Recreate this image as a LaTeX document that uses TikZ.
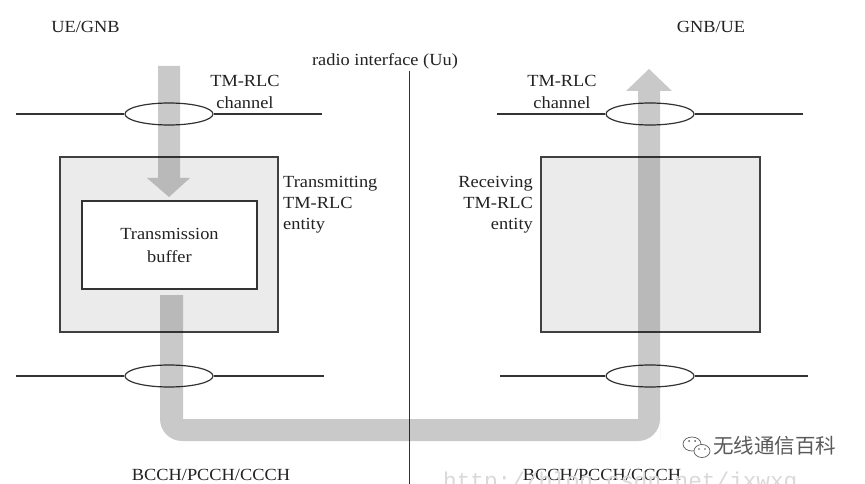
\documentclass[tikz,border=0pt]{standalone}
\usepackage{fontspec}
\setmainfont{Liberation Serif}[FakeStretch=1.08]
\newfontfamily\cjk{Noto Sans CJK SC}
\newfontfamily\urlfont{Liberation Mono}
\usetikzlibrary{shapes.geometric}
\definecolor{ink}{HTML}{222222}
\definecolor{linec}{HTML}{333333}
\definecolor{boxfill}{HTML}{EBEBEB}
\definecolor{wm}{HTML}{5A5A5A}
\tikzset{
  lbl/.style={anchor=base, inner sep=0pt, text=ink, font=\fontsize{17}{21}\selectfont},
  lblL/.style={lbl, anchor=base west},
  lblR/.style={lbl, anchor=base east},
  chan/.style={draw=linec, line width=1.2pt},
  ring/.style={ellipse, draw=linec, line width=1.2pt, minimum width=88pt, minimum height=22pt, inner sep=0pt},
  entitybox/.style={draw=black!75, line width=1.5pt, fill=boxfill, inner sep=0pt},
  bufbox/.style={draw=black!80, line width=1.4pt, fill=white, inner sep=0pt, align=center, text=ink, font=\fontsize{17}{21}\selectfont},
  flow/.style={fill=black, fill opacity=0.21}
}
\begin{document}
\begin{tikzpicture}[x=1pt,y=-1pt]
\useasboundingbox (0,0) rectangle (865,484);
\fill[white] (0,0) rectangle (865,484);

% radio interface line
\coordinate (vtop) at (409.5,71);
\coordinate (vbot) at (409.5,484);
\draw[linec, line width=1.2pt] (vtop) -- (vbot);

% channel rings
\node[ring] (e1) at (169,114) {};
\node[ring] (e2) at (650,114) {};
\node[ring] (e3) at (169,376) {};
\node[ring] (e4) at (650,376) {};
\coordinate (l1a) at (16,114);  \coordinate (l1b) at (322,114);
\coordinate (l2a) at (497,114); \coordinate (l2b) at (803,114);
\coordinate (l3a) at (16,376);  \coordinate (l3b) at (324,376);
\coordinate (l4a) at (500,376); \coordinate (l4b) at (808,376);
\draw[chan] (l1a) -- (e1.west) (e1.east) -- (l1b);
\draw[chan] (l2a) -- (e2.west) (e2.east) -- (l2b);
\draw[chan] (l3a) -- (e3.west) (e3.east) -- (l3b);
\draw[chan] (l4a) -- (e4.west) (e4.east) -- (l4b);

% entities
\node[entitybox, minimum width=218pt, minimum height=175pt] (tx) at (169,244.5) {};
\node[entitybox, minimum width=219pt, minimum height=175pt] (rx) at (650.5,244.5) {};
\node[bufbox, minimum width=175pt, minimum height=88pt] (buf) at (169.5,245) {Transmission\\[2pt]buffer};

% data flow arrows
\fill[flow] (158,66) -- (180,66) -- (180,178) -- (190,178) -- (169,197) -- (147,178) -- (158,178) -- cycle;
\fill[flow] (160,295) -- (160,419) [rounded corners=22pt] -- (160,441) -- (660,441) -- (660,419) [sharp corners]
  -- (660,91) -- (672,91) -- (649,69) -- (626,91) -- (638,91) -- (638,419) -- (183,419) -- (183,295) -- cycle;

% labels
\node[lbl] (ueg) at (85.5,33) {UE/GNB};
\node[lbl] (gue) at (711,33) {GNB/UE};
\node[lbl] (uu) at (385,66) {radio interface (Uu)};
\node[lbl] (c1a) at (245,87) {TM-RLC};
\node[lbl] (c1b) at (245,109) {channel};
\node[lbl] (c2a) at (562,87) {TM-RLC};
\node[lbl] (c2b) at (562,109) {channel};
\node[lblL] (t1) at (283,187) {Transmitting};
\node[lblL] (t2) at (283,208) {TM-RLC};
\node[lblL] (t3) at (283,229) {entity};
\node[lblR] (r1) at (533,187) {Receiving};
\node[lblR] (r2) at (533,208) {TM-RLC};
\node[lblR] (r3) at (533,229) {entity};
\node[lbl] (b1) at (211,480) {BCCH/PCCH/CCCH};
\node[lbl] (b2) at (602,480) {BCCH/PCCH/CCCH};

% watermark
\node[anchor=base west, inner sep=0pt, text=wm, font=\cjk\fontsize{20.5}{24}\selectfont] (wmt) at (713,453.5) {无线通信百科};
\draw[wm, line width=0.7pt] (692,444) ellipse [x radius=9, y radius=7];
\draw[wm, line width=0.7pt, fill=white] (702,451) ellipse [x radius=8, y radius=6.5];
\fill[wm] (689,441) circle (1) (695,441) circle (1) (699,449) circle (0.9) (705,449) circle (0.9);
\begin{scope}
\clip (0,0) rectangle (865,484);
\node[anchor=base west, inner sep=0pt, text=black!15, font=\urlfont\fontsize{22.7}{26}\selectfont] (url) at (443,488) {http://blog.csdn.net/jxwxg};
\end{scope}
\end{tikzpicture}
\end{document}
